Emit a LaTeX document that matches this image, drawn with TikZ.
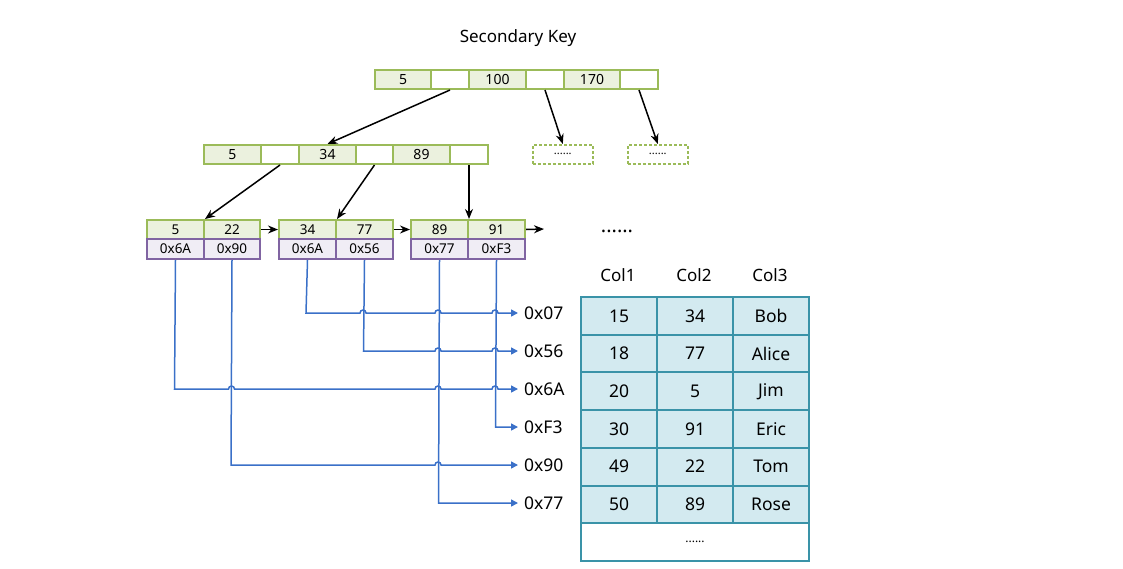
\documentclass[tikz,border=0pt]{standalone}
\usepackage{fontspec}
\setmainfont{Noto Sans}
\usetikzlibrary{arrows.meta}
\definecolor{gbd}{HTML}{9BBB59}
\definecolor{gfl}{HTML}{EBF1DE}
\definecolor{pbd}{HTML}{8064A2}
\definecolor{pfl}{HTML}{F0EDF5}
\definecolor{tbd}{HTML}{3A93A8}
\definecolor{tfl}{HTML}{D3EAF0}
\definecolor{bll}{HTML}{8DB3E2}
\definecolor{bld}{HTML}{4A7EBB}
\definecolor{blt}{HTML}{3A70C8}
\tikzset{
  gcell/.style={draw=gbd,line width=2pt,fill=gfl,minimum height=19pt,inner sep=0pt,anchor=north west,font=\fontsize{14}{14}\selectfont},
  ecell/.style={gcell,fill=white},
  lcell/.style={gcell,font=\fontsize{13.5}{13.5}\selectfont},
  pcell/.style={draw=pbd,line width=2pt,fill=pfl,minimum height=20pt,inner sep=0pt,anchor=north west,font=\fontsize{13.5}{13.5}\selectfont},
  dbox/.style={draw=gbd,line width=1.6pt,dash pattern=on 3pt off 2pt,minimum width=60pt,minimum height=19pt,inner sep=0pt,anchor=north west,font=\fontsize{11}{11}\selectfont},
  tcell/.style={draw=tbd,line width=2pt,fill=tfl,minimum width=76pt,minimum height=37.7pt,inner sep=0pt,anchor=north west,font=\fontsize{17.5}{17.5}\selectfont},
  tr/.style={-{Stealth[length=10pt,width=8pt]},line width=1.5pt,black},
  bl/.style={line width=1.5pt,-{Triangle[length=7pt,width=7pt]}},
  addr/.style={anchor=west,inner sep=0pt,font=\fontsize{17.5}{17.5}\selectfont},
  hdr/.style={font=\fontsize{17}{17}\selectfont,inner sep=0pt},
}
\begin{document}
\begin{tikzpicture}[x=1pt,y=-1pt]
\useasboundingbox (0,0) rectangle (1123,568);
\node[font=\fontsize{17}{17}\selectfont] (title) at (518,38) {Secondary Key};
% root
\node[gcell,minimum width=56pt] (r1) at (374,69) {5};
\node[ecell,minimum width=38pt] (r2) at (430,69) {};
\node[gcell,minimum width=57pt] (r3) at (468,69) {100};
\node[ecell,minimum width=38pt] (r4) at (525,69) {};
\node[gcell,minimum width=56pt] (r5) at (563,69) {170};
\node[ecell,minimum width=38pt] (r6) at (619,69) {};
% level 2
\node[gcell,minimum width=57pt] (b1) at (203,144) {5};
\node[ecell,minimum width=38pt] (b2) at (260,144) {};
\node[gcell,minimum width=57pt] (b3) at (298,144) {34};
\node[ecell,minimum width=37pt] (b4) at (355,144) {};
\node[gcell,minimum width=57pt] (b5) at (392,144) {89};
\node[ecell,minimum width=38pt] (b6) at (449,144) {};
\node[dbox] (d1) at (532,144) {......};
\node[dbox] (d2) at (627,144) {......};
% leaves
\node[lcell,minimum width=57pt] (l1a) at (146,219) {5};
\node[lcell,minimum width=56pt] (l1b) at (203,219) {22};
\node[pcell,minimum width=57pt] (p1a) at (146,238) {0x6A};
\node[pcell,minimum width=56pt] (p1b) at (203,238) {0x90};
\node[lcell,minimum width=57pt] (l2a) at (278,219) {34};
\node[lcell,minimum width=57pt] (l2b) at (335,219) {77};
\node[pcell,minimum width=57pt] (p2a) at (278,238) {0x6A};
\node[pcell,minimum width=57pt] (p2b) at (335,238) {0x56};
\node[lcell,minimum width=57pt] (l3a) at (410,219) {89};
\node[lcell,minimum width=57pt] (l3b) at (467,219) {91};
\node[pcell,minimum width=57pt] (p3a) at (410,238) {0x77};
\node[pcell,minimum width=57pt] (p3b) at (467,238) {0xF3};
\coordinate (lend) at (544,229);
\node[font=\fontsize{20}{20}\selectfont\bfseries,inner sep=0pt] (more) at (617,231) {......};
% tree arrows
\draw[tr] (r2.south) -- (b3.north);
\draw[tr] (r4.south) -- (d1.north);
\draw[tr] (r6.south) -- (d2.north);
\draw[tr] (b2.south) -- (l1a.north east);
\draw[tr] (b4.south) -- (l2a.north east);
\draw[tr] (b6.south) -- (l3a.north east);
\draw[tr] (l1b.east) -- (l2a.west);
\draw[tr] (l2b.east) -- (l3a.west);
\draw[tr] (l3b.east) -- (lend);
% address labels
\node[addr] (a1) at (524,313) {0x07};
\node[addr] (a2) at (524,351) {0x56};
\node[addr] (a3) at (524,389) {0x6A};
\node[addr] (a4) at (524,427) {0xF3};
\node[addr] (a5) at (524,465) {0x90};
\node[addr] (a6) at (524,503) {0x77};
% blue connectors with hops
\draw[bl,draw=bll,-{Triangle[length=7pt,width=7pt,fill=blt]},blt] (p2a.south) -- (306,313) -- (360,313) arc[start angle=180,end angle=360,radius=3] -- (435,313) arc[start angle=180,end angle=360,radius=3] -- (492,313) arc[start angle=180,end angle=360,radius=3] -- ([xshift=-6pt]a1.west);
\draw[bl,draw=bld,-{Triangle[length=7pt,width=7pt,fill=blt]},blt] (p2b.south) -- (363.5,351) -- (435,351) arc[start angle=180,end angle=360,radius=3] -- (492,351) arc[start angle=180,end angle=360,radius=3] -- ([xshift=-6pt]a2.west);
\draw[bl,draw=bld,-{Triangle[length=7pt,width=7pt,fill=blt]},blt] (p1a.south) -- (174.5,389) -- (228.5,389) arc[start angle=180,end angle=360,radius=3] -- (435,389) arc[start angle=180,end angle=360,radius=3] -- (492,389) arc[start angle=180,end angle=360,radius=3] -- ([xshift=-6pt]a3.west);
\draw[bl,draw=bll,-{Triangle[length=7pt,width=7pt,fill=blt]},blt] (p3b.south) -- (495.5,427) -- ([xshift=-6pt]a4.west);
\draw[bl,draw=bld,-{Triangle[length=7pt,width=7pt,fill=blt]},blt] (p1b.south) -- (231,465) -- (435,465) arc[start angle=180,end angle=360,radius=3] -- ([xshift=-6pt]a5.west);
\draw[bl,draw=bll,-{Triangle[length=7pt,width=7pt,fill=blt]},blt] (p3a.south) -- (438.5,503) -- ([xshift=-6pt]a6.west);
% table
\node[hdr] (h1) at (618,275) {Col1};
\node[hdr] (h2) at (694,275) {Col2};
\node[hdr] (h3) at (770,275) {Col3};
\foreach \y/\a/\b/\c [count=\i] in {296/15/34/Bob,333.7/18/77/Alice,371.4/20/5/Jim,409.1/30/91/Eric,446.8/49/22/Tom,484.5/50/89/Rose}{
  \node[tcell] (t\i a) at (580,\y) {\a};
  \node[tcell] (t\i b) at (656,\y) {\b};
  \node[tcell] (t\i c) at (732,\y) {\c};
}
\node[tcell,fill=white,minimum width=228pt,font=\fontsize{12}{12}\selectfont] (tlast) at (580,522.2) {......};
\end{tikzpicture}
\end{document}
